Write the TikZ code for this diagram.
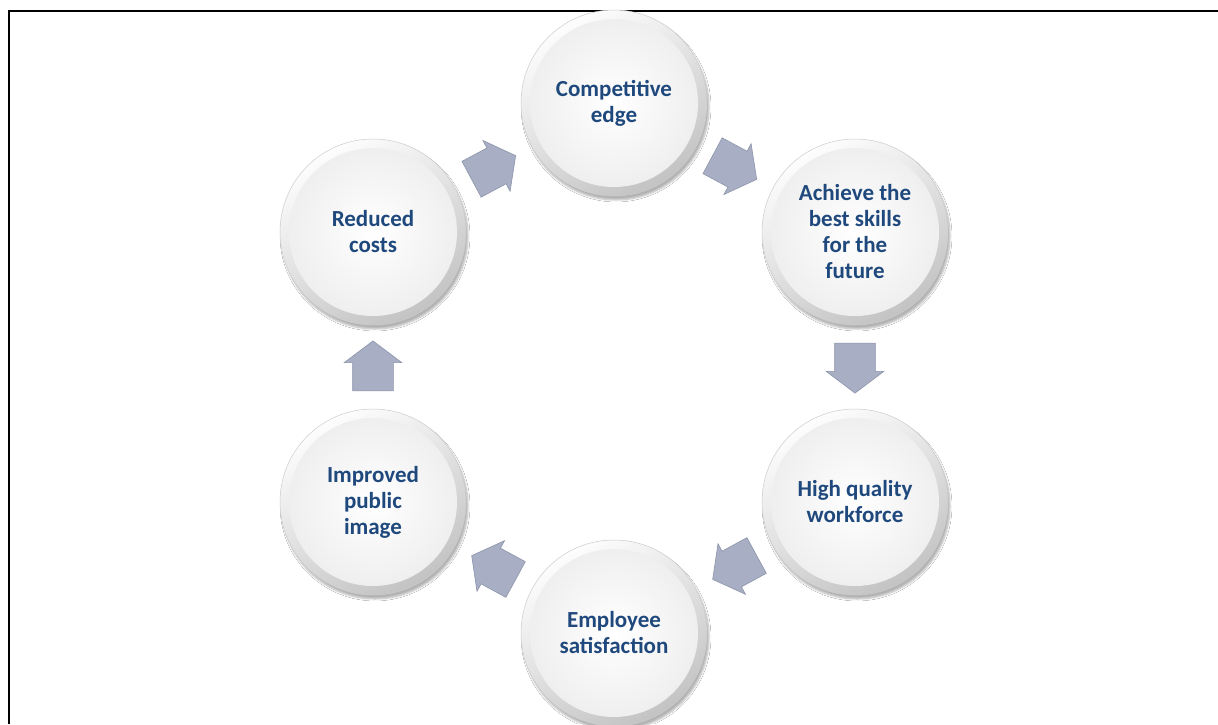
\documentclass[tikz,border=0pt]{standalone}
\usepackage{fontspec}
\setmainfont{Carlito}
\usetikzlibrary{shapes.arrows,shadows.blur}
\definecolor{labelblue}{RGB}{31,73,125}
\definecolor{arrowfill}{RGB}{168,175,196}
\definecolor{arrowedge}{RGB}{140,148,170}
\definecolor{rimlight}{RGB}{253,253,253}
\definecolor{rimdark}{RGB}{195,195,195}
\begin{document}
\begin{tikzpicture}[x=1pt,y=-1pt,
  bubble/.style={circle, minimum size=186pt, inner sep=0pt, align=center,
    font=\fontsize{23}{26}\selectfont\bfseries, text=labelblue,
    blur shadow={shadow xshift=2pt, shadow yshift=-4pt, shadow blur steps=6, shadow opacity=30},
    top color=rimlight, bottom color=rimdark, shading angle=30,
    draw=rimdark!85, line width=0.5pt,
    path picture={\shade[inner color=white, outer color=black!7]
      (path picture bounding box.center) circle (84pt);}},
  flowarrow/.style={single arrow, minimum height=50pt,
    single arrow head extend=8.5pt, single arrow head indent=0pt,
    single arrow tip angle=106, inner sep=0pt,
    fill=arrowfill, draw=arrowedge, line width=0.6pt,
    sloped, allow upside down, anchor=tail, pos=0.21}
]
\useasboundingbox (0,0) rectangle (1218,724);
\clip (0,0) rectangle (1218,724);
\fill[white] (0,0) rectangle (1218,724);

% page frame (top and left rules)
\draw[line width=2.4pt] (9,724) -- (9,11) -- (1218,11);

% the six stages of the cycle
\node[bubble] (ce) at (614,103) {Competitive\\edge};
\node[bubble] (ab) at (855,232) {Achieve the\\best skills\\for the\\future};
\node[bubble] (hq) at (855,502) {High quality\\workforce};
\node[bubble] (es) at (614,633) {Employee\\satisfaction};
\node[bubble] (ip) at (373,502) {Improved\\public\\image};
\node[bubble] (rc) at (373,232) {Reduced\\costs};

% block arrows between consecutive stages (the strut sets the shaft width)
\path (rc) -- node[flowarrow] {\rule{0pt}{40pt}} (ce);
\path (ce) -- node[flowarrow] {\rule{0pt}{40pt}} (ab);
\path (ab) -- node[flowarrow] {\rule{0pt}{40pt}} (hq);
\path (hq) -- node[flowarrow] {\rule{0pt}{40pt}} (es);
\path (es) -- node[flowarrow] {\rule{0pt}{40pt}} (ip);
\path (ip) -- node[flowarrow] {\rule{0pt}{40pt}} (rc);
\end{tikzpicture}
\end{document}
